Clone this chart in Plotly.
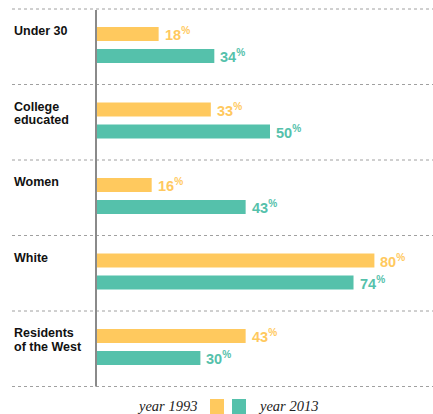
import plotly.graph_objects as go

# Share of each group, 1993 vs 2013 (percent)
categories = ["Under 30", "College<br>educated", "Women", "White", "Residents<br>of the West"]
share_1993 = [18, 33, 16, 80, 43]
share_2013 = [34, 50, 43, 74, 30]
series_names = ["year 1993", "year 2013"]

YELLOW = "#FFC95E"
TEAL = "#55C1AB"
W, H = 433, 414

# Layout geometry (pixels): each group occupies one y unit
GROUP_PX = 75.5
TOP_PX = 9
AXIS_X_PX = 96
PX_PER_PCT = 3.48


def py(p):
    """Pixel row -> y data coordinate (one unit per group)."""
    return (p - TOP_PX) / GROUP_PX


n = len(categories)
pos_1993 = [i + py(TOP_PX + 25) for i in range(n)]
pos_2013 = [i + py(TOP_PX + 47) for i in range(n)]
bar_w = 14 / GROUP_PX

fig = go.Figure()
for name, vals, pos, col in [
    (series_names[0], share_1993, pos_1993, YELLOW),
    (series_names[1], share_2013, pos_2013, TEAL),
]:
    fig.add_trace(go.Bar(
        x=vals, y=pos, orientation="h", width=bar_w, name=name,
        marker=dict(color=col, line=dict(width=0)), showlegend=False,
        hoverinfo="skip",
    ))

annotations = []
shapes = []

# value labels at bar ends
for vals, pos, col in [(share_1993, pos_1993, YELLOW), (share_2013, pos_2013, TEAL)]:
    for v, p in zip(vals, pos):
        annotations.append(dict(
            x=v, y=p, xref="x", yref="y", xanchor="left", yanchor="middle",
            xshift=4, showarrow=False,
            text=f"<b>{v}<sup>%</sup></b>",
            font=dict(family="Liberation Sans, Arial, sans-serif", size=14.5, color=col),
        ))

# category labels (one annotation per line)
for i, cat in enumerate(categories):
    for j, line in enumerate(cat.split("<br>")):
        annotations.append(dict(
            x=12 / W, y=i + py(TOP_PX + 22 + 13.5 * j), xref="paper", yref="y",
            xanchor="left", yanchor="middle", showarrow=False,
            text=f"<b>{line}</b>",
            font=dict(family="Liberation Sans, Arial, sans-serif", size=12.5, color="#111"),
        ))

# dotted separators between groups
for i in range(n + 1):
    shapes.append(dict(
        type="line", xref="paper", yref="y", x0=12 / W, x1=1, y0=i, y1=i,
        line=dict(color="#a0a0a0", width=1, dash="dot"),
    ))

# vertical baseline
shapes.append(dict(
    type="line", xref="x", yref="y", x0=0, x1=0, y0=py(TOP_PX + 1), y1=n,
    line=dict(color="#8a8a8a", width=2),
))

# legend: text, swatch, swatch, text
leg_y = py(406)
annotations.append(dict(
    x=199 / W, y=leg_y, xref="paper", yref="y", xanchor="right", yanchor="middle",
    showarrow=False, text=f"<i>{series_names[0]}</i>",
    font=dict(family="Liberation Serif, serif", size=14.5, color="#222"),
))
annotations.append(dict(
    x=256 / W, y=leg_y, xref="paper", yref="y", xanchor="left", yanchor="middle",
    showarrow=False, text=f"<i>{series_names[1]}</i>",
    font=dict(family="Liberation Serif, serif", size=14.5, color="#222"),
))
for x0, col in [(210, YELLOW), (232, TEAL)]:
    shapes.append(dict(
        type="rect", xref="paper", yref="y", x0=x0 / W, x1=(x0 + 14) / W,
        y0=py(399), y1=py(416), line=dict(width=0), fillcolor=col,
    ))

x_min = -AXIS_X_PX / PX_PER_PCT
x_max = (W - AXIS_X_PX) / PX_PER_PCT

fig.update_layout(
    width=W, height=H,
    margin=dict(l=0, r=0, t=0, b=0),
    paper_bgcolor="white", plot_bgcolor="white",
    barmode="overlay",
    xaxis=dict(range=[x_min, x_max], visible=False, fixedrange=True),
    yaxis=dict(range=[py(H), py(0)], visible=False, fixedrange=True),
    annotations=annotations, shapes=shapes,
)

fig.write_html("out.html")
